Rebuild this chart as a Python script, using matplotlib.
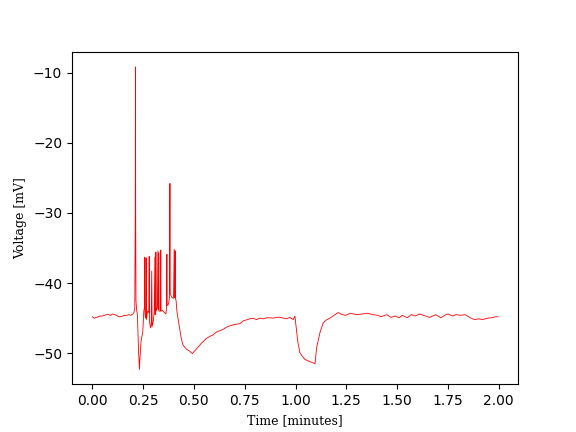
import matplotlib
matplotlib.use("Agg")
import matplotlib.pyplot as plt

# Time in minutes, voltage in mV
time_min = [
    0.000, 0.010, 0.020, 0.030, 0.040, 0.050, 0.060, 0.070, 0.080, 0.090,
    0.100, 0.110, 0.120, 0.130, 0.140, 0.150, 0.160, 0.170, 0.180, 0.190,
    0.200, 0.205, 0.209, 0.2115, 0.2125, 0.2135, 0.215, 0.218, 0.222, 0.228,
    0.232, 0.234, 0.240, 0.2486, 0.2535,
    0.2565, 0.258, 0.2595, 0.262, 0.264, 0.265, 0.2665, 0.272, 0.278, 0.280,
    0.2815, 0.2864, 0.290, 0.2925, 0.2945, 0.300, 0.305, 0.308, 0.3095, 0.3115,
    0.313, 0.3145, 0.320, 0.323, 0.3245, 0.326, 0.327, 0.3285, 0.335, 0.337,
    0.3385, 0.345, 0.355, 0.362, 0.3655, 0.367, 0.3685, 0.375, 0.380, 0.382,
    0.3835, 0.390, 0.398, 0.400, 0.403, 0.4045, 0.4065, 0.408, 0.4095, 0.412,
    0.4165, 0.4214, 0.4296, 0.4378, 0.446, 0.4625, 0.479, 0.4922,
    0.5119, 0.5366, 0.561, 0.578, 0.594, 0.610, 0.627, 0.643, 0.660, 0.6765,
    0.700, 0.726, 0.742, 0.7588, 0.775, 0.790, 0.808, 0.825, 0.841, 0.858,
    0.874, 0.890, 0.906, 0.923, 0.940, 0.956, 0.972, 0.989, 0.997,
    1.006, 1.012, 1.022, 1.035, 1.047, 1.070, 1.090, 1.096, 1.104, 1.120,
    1.136, 1.150, 1.169, 1.190, 1.210, 1.230, 1.247, 1.270, 1.300, 1.330,
    1.355, 1.380, 1.405, 1.420, 1.450, 1.470, 1.490, 1.510, 1.525, 1.550,
    1.570, 1.590, 1.610, 1.640, 1.660, 1.690, 1.715, 1.740, 1.750, 1.773,
    1.790, 1.810, 1.835, 1.860, 1.880, 1.900, 1.922, 1.945, 1.965, 1.985,
    1.997,
]
voltage_mv = [
    -44.8, -45.0, -44.9, -44.8, -44.7, -44.7, -44.6, -44.5, -44.5, -44.6,
    -44.4, -44.5, -44.6, -44.8, -44.8, -44.7, -44.6, -44.6, -44.5, -44.6,
    -44.4, -44.2, -43.5, -30.0, -9.2, -30.0, -42.5, -43.8, -44.5, -50.0,
    -52.3, -51.0, -48.3, -46.9, -44.0,
    -43.5, -36.3, -44.5, -45.0, -44.5, -36.4, -45.2, -44.0, -44.2, -36.2,
    -45.5, -46.4, -46.0, -38.3, -46.2, -45.5, -44.0, -36.3, -44.5, -44.0,
    -35.6, -44.0, -43.5, -35.4, -43.8, -43.8, -35.7, -44.0, -44.0, -35.3,
    -44.0, -43.9, -44.2, -44.4, -43.5, -35.9, -43.2, -43.0, -42.0, -25.8,
    -41.5, -42.0, -42.2, -41.8, -35.2, -42.0, -42.1, -35.4, -42.3, -42.4,
    -44.0, -44.95, -46.4, -47.9, -48.8, -49.4, -49.7, -50.05,
    -49.4, -48.6, -47.9, -47.6, -47.4, -47.0, -46.8, -46.6, -46.3, -46.1,
    -45.9, -45.8, -45.4, -45.24, -45.1, -45.0, -45.2, -45.0, -45.1, -44.95,
    -44.95, -45.0, -44.9, -44.86, -45.0, -45.1, -44.9, -45.2, -44.7,
    -46.9, -48.5, -49.95, -50.5, -50.9, -51.2, -51.4, -51.5, -49.2, -47.1,
    -45.7, -45.3, -45.0, -44.6, -44.2, -44.5, -44.6, -44.3, -44.5, -44.4,
    -44.3, -44.5, -44.6, -44.8, -44.5, -44.9, -44.7, -44.95, -44.6, -44.95,
    -44.5, -44.7, -44.4, -44.7, -44.9, -44.5, -44.95, -44.5, -44.4, -44.7,
    -44.5, -44.6, -44.5, -44.95, -45.2, -45.1, -45.2, -45.0, -44.95, -44.8,
    -44.8,
]

fig, ax = plt.subplots(figsize=(5.76, 4.32), dpi=100)
ax.plot(time_min, voltage_mv, color="red", linewidth=0.6)
ax.set_xlabel("Time [minutes]", family="DejaVu Serif", fontsize=9)
ax.set_ylabel("Voltage [mV]", family="DejaVu Serif", fontsize=9)
fig.savefig("out.png", dpi=100)
